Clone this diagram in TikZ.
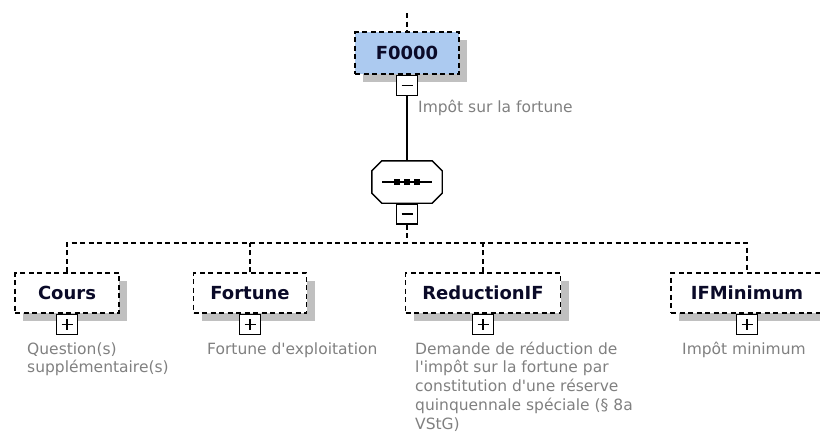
\documentclass[tikz,border=0pt]{standalone}
\usepackage{fontspec}
\setmainfont{DejaVu Sans}[Ligatures=TeXOff]
\usetikzlibrary{shadows,calc}
\definecolor{shadowc}{RGB}{192,192,192}
\definecolor{descc}{RGB}{128,128,128}
\definecolor{elemblue}{RGB}{172,202,240}
\definecolor{titlec}{RGB}{10,10,40}
\tikzset{
  conn/.style={line width=1.4pt, dash pattern=on 5pt off 3.5pt},
  solidconn/.style={line width=1.4pt},
  elembox/.style={draw, conn, fill=white, inner sep=0pt, minimum height=40pt,
    font=\fontsize{18}{20}\selectfont\bfseries, text=titlec,
    drop shadow={shadow xshift=8pt, shadow yshift=-8pt, fill=shadowc, opacity=1}},
  expbox/.style={draw, fill=white, line width=1.3pt, solid, minimum width=21pt,
    minimum height=20pt, inner sep=0pt},
  minusbox/.style={expbox, path picture={
    \draw[line width=1.3pt] ([xshift=5pt]path picture bounding box.west) -- ([xshift=-5pt]path picture bounding box.east);}},
  plusbox/.style={expbox, path picture={
    \draw[line width=1.3pt] ([xshift=5pt]path picture bounding box.west) -- ([xshift=-5pt]path picture bounding box.east);
    \draw[line width=1.3pt] ([yshift=4.5pt]path picture bounding box.south) -- ([yshift=-4.5pt]path picture bounding box.north);}},
  desc/.style={anchor=base west, inner sep=0pt, text=descc, font=\fontsize{15.5}{18.8}\selectfont},
}
\newcommand{\desclines}[1]{\parbox[t]{260pt}{\raggedright\fontsize{15.5}{18.8}\selectfont #1}}
\begin{document}
\begin{tikzpicture}[x=1pt,y=-1pt]
\useasboundingbox (0,0) rectangle (820,442);
\clip (0,0) rectangle (820,442);

% top element
\coordinate (top) at (407,13);
\node[elembox, fill=elemblue, minimum width=104pt, minimum height=42pt] (f0) at (407,53) {F0000};
\node[minusbox, anchor=north] (f0m) at (f0.south) {};
\node[desc] (f0d) at (418,112) {Impôt sur la fortune};
\draw[conn] (top) -- (f0.north);

% sequence compositor
\node[minimum width=70pt, minimum height=42pt, inner sep=0pt] (seq) at (407,182) {};
\fill[shadowc!80, shift={(5,5)}]
  ($(seq.north west)+(10,0)$) -- ($(seq.north east)+(-10,0)$) -- ($(seq.north east)+(0,10)$)
  -- ($(seq.south east)+(0,-10)$) -- ($(seq.south east)+(-10,0)$) -- ($(seq.south west)+(10,0)$)
  -- ($(seq.south west)+(0,-10)$) -- ($(seq.north west)+(0,10)$) -- cycle;
\filldraw[fill=white, line width=1.4pt]
  ($(seq.north west)+(10,0)$) -- ($(seq.north east)+(-10,0)$) -- ($(seq.north east)+(0,10)$)
  -- ($(seq.south east)+(0,-10)$) -- ($(seq.south east)+(-10,0)$) -- ($(seq.south west)+(10,0)$)
  -- ($(seq.south west)+(0,-10)$) -- ($(seq.north west)+(0,10)$) -- cycle;
\draw[line width=1.4pt] ($(seq.center)+(-25,0)$) -- ($(seq.center)+(25,0)$);
\foreach \dx in {-10,0,10} {
  \fill ($(seq.center)+(\dx,0)+(-3,-3)$) rectangle ($(seq.center)+(\dx,0)+(3,3)$);
}
\node[minusbox, anchor=north] (seqm) at (seq.south) {};
\draw[solidconn] (f0m.south) -- (seq.north);

% children
\node[elembox, minimum width=104pt] (cours) at (67,293) {Cours};
\node[elembox, minimum width=113pt] (fortune) at (250,293) {Fortune};
\node[elembox, minimum width=155pt] (reduc) at (483,293) {ReductionIF};
\node[elembox, minimum width=152pt] (ifmin) at (747,293) {IFMinimum};

\node[plusbox, anchor=north] (coursp) at (cours.south) {};
\node[plusbox, anchor=north] (fortunep) at (fortune.south) {};
\node[plusbox, anchor=north] (reducp) at (reduc.south) {};
\node[plusbox, anchor=north] (ifminp) at (ifmin.south) {};

% connectors
\coordinate (bus) at (407,243);
\draw[conn] (seqm.south) -- (bus);
\draw[conn] (cours.north) |- (bus) -| (ifmin.north);
\draw[conn] (fortune.north) -- (fortune.north |- bus);
\draw[conn] (reduc.north) -- (reduc.north |- bus);

% descriptions
\node[desc] (coursd) at (27,354) {\desclines{Question(s)\\supplémentaire(s)}};
\node[desc] (fortuned) at (207,354) {Fortune d'exploitation};
\node[desc] (reducd) at (415,354) {\desclines{Demande de réduction de\\l'impôt sur la fortune par\\constitution d'une réserve\\quinquennale spéciale (§ 8a\\VStG)}};
\node[desc] (ifmind) at (682,354) {Impôt minimum};
\end{tikzpicture}
\end{document}
